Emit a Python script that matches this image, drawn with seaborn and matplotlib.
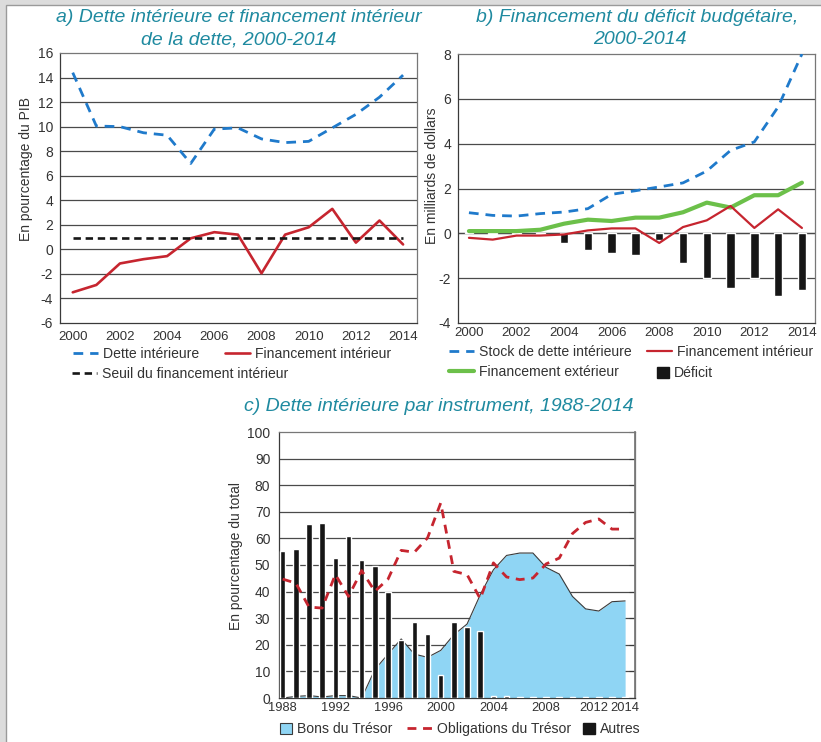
import matplotlib
matplotlib.use("Agg")
import matplotlib.pyplot as plt
from matplotlib.lines import Line2D
from matplotlib.patches import Patch, Rectangle
import seaborn as sns
import numpy as np

# ---------------- data ----------------
years_ab = list(range(2000, 2015))
dette_int_a = [14.4, 10.05, 10.0, 9.5, 9.3, 7.0, 9.8, 9.9, 9.0, 8.7, 8.8, 9.9, 11.0, 12.4, 14.2]
fin_int_a = [-3.5, -2.9, -1.15, -0.8, -0.55, 0.9, 1.4, 1.2, -1.95, 1.2, 1.8, 3.3, 0.55, 2.35, 0.4]
seuil_a = [0.9] * 15

stock_b = [0.92, 0.8, 0.77, 0.88, 0.95, 1.1, 1.74, 1.9, 2.07, 2.25, 2.78, 3.7, 4.08, 5.64, 8.0]
fin_int_b = [-0.2, -0.28, -0.1, -0.1, -0.05, 0.13, 0.22, 0.22, -0.43, 0.28, 0.58, 1.22, 0.24, 1.07, 0.24]
fin_ext_b = [0.1, 0.1, 0.1, 0.16, 0.43, 0.61, 0.55, 0.7, 0.7, 0.94, 1.37, 1.15, 1.7, 1.7, 2.26]
deficit_b = [0.06, -0.03, -0.05, -0.05, -0.42, -0.76, -0.86, -0.98, -0.31, -1.31, -1.98, -2.43, -1.98, -2.8, -2.53]

years_c = list(range(1988, 2015))
bons_c = [0.0, 0.6, 0.9, 0.4, 0.9, 0.9, 0.0, 10.7, 16.5, 22.2, 16.5, 15.3, 17.9, 23.8, 27.8, 38.8,
          48.2, 53.6, 54.5, 54.5, 49.1, 46.6, 38.2, 33.5, 32.7, 36.2, 36.5]
oblig_c = [44.7, 43.2, 34.2, 33.8, 46.4, 38.2, 47.9, 40.1, 44.7, 55.5, 54.8, 60.2, 73.3, 47.6, 46.4, 37.3,
           50.8, 45.5, 44.5, 45.1, 50.4, 52.6, 61.8, 66.0, 67.3, 63.5, 63.5]
autres_c = [55.4, 56.1, 65.5, 65.9, 52.8, 61.0, 52.0, 49.7, 39.7, 21.9, 28.7, 24.1, 8.8, 28.7, 26.8, 25.3,
            0.9, 0.9, 0.5, 0.5, 0.5, 0.5, 0.5, 0.5, 0.5, 0.5, 0.5]

xticks_ab = [2000, 2002, 2004, 2006, 2008, 2010, 2012, 2014]
xticks_c = ['1988', '1992', '1996', '2000', '2004', '2008', '2012', '2014']

# ---------------- style ----------------
sns.set_theme(style="white")
plt.rcParams['font.family'] = ['Liberation Sans', 'DejaVu Sans']
plt.rcParams['axes.unicode_minus'] = False
TXT = '#333333'
TEAL = '#1f8aa0'
BLUE = '#1f7acb'
RED = '#c6252f'
GREEN = '#6cc04a'
BLACK = '#161616'
AREA = '#8fd5f4'
GRID = '#4a4a4a'
LEGFS = 10.1
TITLEFS = 14

W, H = 821, 742
fig = plt.figure(figsize=(W / 100, H / 100), dpi=100)
fig.patch.set_facecolor('#dcdcdc')
fig.patches.append(Rectangle((5.5 / W, -0.01), 1.05, (H - 4.5) / H + 0.01, transform=fig.transFigure,
                             facecolor='white', edgecolor='#9a9a9a', linewidth=1.0, zorder=-10))


def axes_px(l, r, t, b):
    return fig.add_axes([l / W, 1 - b / H, (r - l) / W, (b - t) / H])


def style_ax(ax, yticks, ylim, xlim):
    ax.set_facecolor('white')
    ax.set_ylim(*ylim)
    ax.set_xlim(*xlim)
    ax.set_yticks(yticks)
    for y in yticks[1:-1]:
        ax.axhline(y, color=GRID, lw=0.9, zorder=0)
    for s in ax.spines.values():
        s.set_color('#3a3a3a')
        s.set_linewidth(0.9)
        s.set_visible(True)
    ax.spines['top'].set_color('#777777')
    ax.spines['right'].set_color('#777777')
    ax.tick_params(axis='y', length=4, width=0.8, color='#3a3a3a', labelsize=10, labelcolor=TXT, pad=1)
    ax.tick_params(axis='x', length=0, labelsize=9.5, labelcolor=TXT, pad=6)
    ax.set_xlabel('')


def fig_text(x, y, s, **kw):
    fig.text(x / W, 1 - y / H, s, ha='center', va='center', fontsize=TITLEFS, style='italic',
             color=TEAL, **kw)


def item_legend(handle, label, x, y, patch=False):
    """Single-entry legend whose handle starts at figure pixel (x, y)."""
    kw = dict(handlelength=0.85, handleheight=0.85) if patch else dict(handlelength=1.8)
    leg = fig.legend([handle], [label], loc='center left', bbox_to_anchor=(x / W, 1 - y / H),
                     bbox_transform=fig.transFigure, frameon=False, fontsize=LEGFS,
                     handletextpad=0.35, borderpad=0, borderaxespad=0, labelcolor=TXT, **kw)
    return leg


# ---------------- panel a ----------------
axa = axes_px(60, 417, 53, 323)
style_ax(axa, list(range(-6, 17, 2)), (-6, 16), (1999.46, 2014.59))
ls_blue = (0, (3.5, 2.5))
ls_black = (0, (2.8, 1.8))
sns.lineplot(x=years_ab, y=dette_int_a, ax=axa, color=BLUE, lw=2.0, linestyle=ls_blue, zorder=3)
sns.lineplot(x=years_ab, y=fin_int_a, ax=axa, color=RED, lw=1.9, zorder=3)
sns.lineplot(x=years_ab, y=seuil_a, ax=axa, color=BLACK, lw=1.9, linestyle=ls_black, zorder=3)
axa.set_xticks(xticks_ab)
axa.set_ylabel('En pourcentage du PIB', fontsize=10, color=TXT)
axa.yaxis.set_label_coords(-0.076, 0.57)
fig_text(239, 18, 'a) Dette intérieure et financement intérieur')
fig_text(239, 40, 'de la dette, 2000-2014')
item_legend(Line2D([], [], color=BLUE, lw=2.0, linestyle=ls_blue), 'Dette intérieure', 73, 354)
item_legend(Line2D([], [], color=RED, lw=1.9), 'Financement intérieur', 225, 354)
item_legend(Line2D([], [], color=BLACK, lw=1.9, linestyle=ls_black), 'Seuil du financement intérieur', 72, 374)

# ---------------- panel b ----------------
axb = axes_px(458, 815, 54, 323)
style_ax(axb, list(range(-4, 9, 2)), (-4, 8), (1999.54, 2014.55))
sns.barplot(x=years_ab, y=deficit_b, ax=axb, color=BLACK, native_scale=True, width=0.36,
            saturation=1, zorder=2)
axb.axhline(0, color=GRID, lw=0.9, zorder=1)
sns.lineplot(x=years_ab, y=stock_b, ax=axb, color=BLUE, lw=2.0, linestyle=ls_blue, zorder=3)
sns.lineplot(x=years_ab, y=fin_ext_b, ax=axb, color=GREEN, lw=3.0, zorder=3)
sns.lineplot(x=years_ab, y=fin_int_b, ax=axb, color=RED, lw=1.6, zorder=4)
axb.set_xlim(1999.54, 2014.55)
axb.set_xticks(xticks_ab)
axb.set_xticklabels([str(y) for y in xticks_ab])
axb.tick_params(axis='x', length=0, labelsize=9.5, labelcolor=TXT, pad=3)
axb.set_xlabel('')
axb.set_ylabel('En milliards de dollars', fontsize=10, color=TXT)
axb.yaxis.set_label_coords(-0.053, 0.546)
fig_text(637, 18, 'b) Financement du déficit budgétaire,')
fig_text(640, 40, '2000-2014')
item_legend(Line2D([], [], color=BLUE, lw=2.0, linestyle=ls_blue), 'Stock de dette intérieure', 449, 352)
item_legend(Line2D([], [], color=RED, lw=1.6), 'Financement intérieur', 647, 352)
item_legend(Line2D([], [], color=GREEN, lw=3.0), 'Financement extérieur', 449, 372)
item_legend(Patch(facecolor=BLACK, edgecolor=BLACK), 'Déficit', 657, 373, patch=True)

# ---------------- panel c ----------------
axc = axes_px(278.7, 635, 432, 698)
style_ax(axc, list(range(0, 101, 10)), (0, 100), (1987.7, 2014.75))
axc.fill_between(years_c, 0, bons_c, color=AREA, zorder=1, linewidth=0)
sns.lineplot(x=years_c, y=bons_c, ax=axc, color='#3a3a3a', lw=0.8, zorder=2)
sns.barplot(x=years_c, y=autres_c, ax=axc, color=BLACK, native_scale=True, width=0.42,
            saturation=1, zorder=3)
ls_red = (0, (3.2, 2.4))
sns.lineplot(x=years_c, y=oblig_c, ax=axc, color=RED, lw=2.0, linestyle=ls_red, zorder=4)
axc.set_xlim(1987.7, 2014.75)
axc.set_ylim(0, 100)
# label positions (2012 nudged left slightly, as in the original layout)
axc.set_xticks([1988, 1992, 1996, 2000, 2004, 2008, 2011.6, 2014])
axc.set_xticklabels(xticks_c)
axc.tick_params(axis='x', length=0, labelsize=9.3, labelcolor=TXT, pad=3)
axc.tick_params(axis='y', pad=2)
axc.set_xlabel('')
sec = axc.secondary_yaxis('right')
sec.set_yticks(list(range(0, 101, 10)))
sec.tick_params(direction='in', length=4, width=0.8, color='#3a3a3a', labelright=False)
sec.spines['right'].set_color('#777777')
axc.set_ylabel('En pourcentage du total', fontsize=10, color=TXT)
axc.yaxis.set_label_coords(-0.10, 0.534)
fig_text(439, 407, 'c) Dette intérieure par instrument, 1988-2014')
item_legend(Patch(facecolor=AREA, edgecolor='#3a3a3a', linewidth=0.8), 'Bons du Trésor', 280, 729, patch=True)
item_legend(Line2D([], [], color=RED, lw=2.0, linestyle=ls_red), 'Obligations du Trésor', 407, 729)
item_legend(Patch(facecolor=BLACK, edgecolor=BLACK), 'Autres', 583, 729, patch=True)

fig.savefig('out.png', dpi=100, facecolor=fig.get_facecolor())
